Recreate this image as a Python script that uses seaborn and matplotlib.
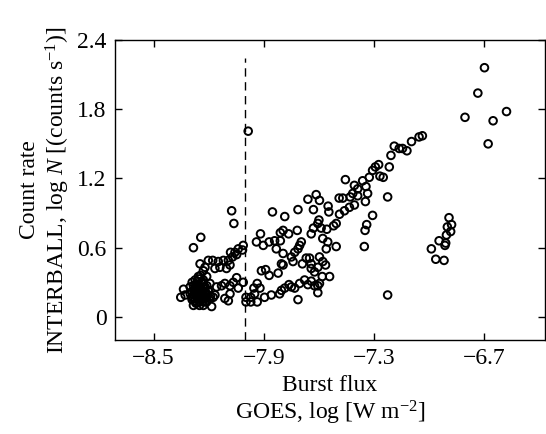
import numpy as np
import pandas as pd
import matplotlib
matplotlib.use("Agg")
import matplotlib.pyplot as plt
import seaborn as sns
from matplotlib.ticker import FuncFormatter

# Data (log GOES flux, log count rate)
x_top = [-6.699, -6.735, -6.579, -6.805, -6.652, -6.679, -7.985]
y_top = [2.16, 1.94, 1.78, 1.73, 1.70, 1.50, 1.61]

x_upper = [-7.037, -7.055, -7.096, -7.121, -7.145, -7.163, -7.19, -7.208, -7.217, -7.275,
           -7.293, -7.308, -7.268, -7.25, -7.226, -7.326, -7.362, -7.456, -7.407, -7.344,
           -7.335, -7.389, -7.416, -7.389, -7.407, -7.43, -7.347, -7.308, -7.34, -7.349,
           -7.353, -7.47, -7.49, -7.434, -7.461, -7.488, -7.506, -7.52, -7.55, -7.546,
           -7.615, -7.597, -7.66, -7.63, -7.714, -7.786, -7.853, -7.6, -7.606, -7.63,
           -7.588, -7.557, -7.642, -7.579, -7.552, -7.56, -7.506, -7.718, -7.765, -7.795,
           -7.81, -7.918, -7.94, -7.903, -7.871, -7.841, -7.81, -7.832, -7.795, -7.696,
           -7.705, -7.714, -7.732, -7.75, -7.741, -7.69, -7.804, -7.795, -7.669, -7.651,
           -7.642, -7.642, -7.624, -7.597, -7.579, -7.606, -7.564, -7.582, -7.542, -7.913,
           -7.89, -7.871, -7.822]
y_upper = [1.57, 1.56, 1.52, 1.44, 1.46, 1.46, 1.48, 1.40, 1.30, 1.32,
           1.30, 1.27, 1.22, 1.21, 1.04, 1.21, 1.18, 1.19, 1.14, 1.13,
           1.07, 1.11, 1.07, 1.05, 0.97, 1.04, 1.00, 0.88, 0.80, 0.75,
           0.61, 1.03, 1.03, 0.95, 0.92, 0.89, 0.81, 0.79, 0.96, 0.91,
           1.06, 1.01, 1.02, 0.93, 0.93, 0.87, 0.91, 0.84, 0.81, 0.77,
           0.77, 0.76, 0.72, 0.68, 0.65, 0.59, 0.61, 0.75, 0.72, 0.75,
           0.73, 0.72, 0.65, 0.62, 0.65, 0.66, 0.66, 0.59, 0.55, 0.65,
           0.62, 0.59, 0.56, 0.52, 0.48, 0.46, 0.46, 0.45, 0.51, 0.51,
           0.46, 0.42, 0.39, 0.52, 0.48, 0.43, 0.45, 0.35, 0.35, 0.40,
           0.41, 0.36, 0.38]

x_lower = [-7.997, -7.971, -7.936, -7.997, -7.971, -7.95, -7.954, -7.936, -7.921, -7.896,
           -7.859, -7.814, -7.804, -7.786, -7.763, -7.732, -7.714, -7.705, -7.678, -7.66,
           -7.642, -7.624, -7.606, -7.597, -7.606, -7.75, -7.226]
y_lower = [0.13, 0.13, 0.13, 0.17, 0.17, 0.20, 0.25, 0.29, 0.25, 0.17,
           0.19, 0.20, 0.23, 0.25, 0.28, 0.25, 0.15, 0.29, 0.32, 0.28,
           0.31, 0.27, 0.27, 0.29, 0.21, 0.26, 0.19]

x_right = [-6.892, -6.878, -6.901, -6.883, -6.906, -6.946, -6.91, -6.914, -6.988, -6.964, -6.919]
y_right = [0.86, 0.80, 0.78, 0.74, 0.71, 0.66, 0.64, 0.62, 0.59, 0.50, 0.49]

x_left = [-8.283, -8.243, -8.075, -8.063, -8.012, -8.016, -8.039, -8.057, -8.081, -8.048,
          -8.07, -8.093, -8.12, -8.148, -8.178, -8.202, -8.247, -8.22, -8.166, -8.139,
          -8.103, -8.084, -8.229, -8.256, -8.211, -8.274, -8.229, -8.193, -8.157, -8.13,
          -8.112, -8.084, -8.048, -8.066, -8.039, -8.012, -8.084, -8.112, -8.093, -8.166,
          -8.184, -8.337, -8.352, -8.328, -8.301, -8.292, -8.283,
          -8.283, -8.265, -8.247, -8.274, -8.256, -8.238, -8.22, -8.265, -8.247, -8.229,
          -8.211, -8.22, -8.238, -8.202, -8.292, -8.256, -8.274, -8.229, -8.193, -8.175,
          -8.211, -8.283, -8.262, -8.244]
y_left = [0.60, 0.69, 0.92, 0.81, 0.62, 0.58, 0.59, 0.56, 0.56, 0.54,
          0.52, 0.49, 0.49, 0.48, 0.49, 0.49, 0.46, 0.43, 0.42, 0.43,
          0.42, 0.45, 0.40, 0.35, 0.35, 0.32, 0.32, 0.29, 0.26, 0.27,
          0.29, 0.27, 0.34, 0.30, 0.25, 0.30, 0.20, 0.16, 0.14, 0.19,
          0.09, 0.24, 0.17, 0.19, 0.26, 0.22, 0.10,
          0.17, 0.20, 0.23, 0.14, 0.16, 0.19, 0.20, 0.12, 0.13, 0.14,
          0.17, 0.26, 0.29, 0.23, 0.17, 0.26, 0.23, 0.10, 0.16, 0.17,
          0.13, 0.27, 0.31, 0.36]

# dense core of the low-flux cluster
x_core = [-8.29, -8.27, -8.25, -8.23, -8.21, -8.19, -8.28, -8.26, -8.24, -8.22,
          -8.29, -8.27, -8.25, -8.23, -8.21, -8.24, -8.26, -8.28, -8.30, -8.22,
          -8.20, -8.25, -8.27, -8.23]
y_core = [0.30, 0.28, 0.25, 0.22, 0.20, 0.18, 0.22, 0.18, 0.15, 0.13,
          0.15, 0.12, 0.33, 0.30, 0.27, 0.19, 0.24, 0.19, 0.20, 0.17,
          0.22, 0.10, 0.26, 0.26]

threshold_x = -8.0
x_ticks = [-8.5, -7.9, -7.3, -6.7]
y_ticks = [0, 0.6, 1.2, 1.8, 2.4]

df = pd.DataFrame({
    "flux": x_top + x_upper + x_lower + x_right + x_left + x_core,
    "rate": y_top + y_upper + y_lower + y_right + y_left + y_core,
})

sns.set_theme(style="white")
plt.rcParams["font.family"] = ["Liberation Serif", "DejaVu Serif"]
plt.rcParams["mathtext.fontset"] = "custom"
plt.rcParams["mathtext.rm"] = "Liberation Serif"
plt.rcParams["mathtext.it"] = "Liberation Serif:italic"

fig = plt.figure(figsize=(5.46, 4.34), dpi=100)
ax = fig.add_axes([0.2106, 0.2166, 0.7874, 0.6912])

sns.scatterplot(data=df, x="flux", y="rate", ax=ax, marker="o", s=30,
                facecolors="none", edgecolor="black", linewidth=1.4, legend=False)

ax.plot([threshold_x, threshold_x], [-0.2, 2.24], color="black", lw=1.0,
        dashes=(6, 4))

ax.set_xlim(-8.71, -6.37)
ax.set_ylim(-0.2, 2.4)
ax.set_xticks(x_ticks)
ax.set_yticks(y_ticks)
ax.yaxis.set_major_formatter(FuncFormatter(lambda v, p: "0" if abs(v) < 1e-9 else f"{v:.1f}"))
ax.xaxis.set_major_formatter(FuncFormatter(lambda v, p: f"{v:.1f}".replace("-", "\u2212")))
ax.tick_params(direction="in", length=5, width=1, labelsize=17, colors="black",
               top=True, right=True, bottom=True, left=True, pad=6)
for s in ax.spines.values():
    s.set_visible(True)
    s.set_color("black")
    s.set_linewidth(1.0)

ax.set_xlabel("Burst flux\nGOES, log [W m$^{-2}$]", fontsize=17, color="black", linespacing=1.15,
              labelpad=4)
ax.set_ylabel("Count rate\nINTERBALL, log $N$ [(counts s$^{-1}$)]", fontsize=17,
              color="black", linespacing=1.15, labelpad=4)

fig.savefig("out.png", dpi=100)
